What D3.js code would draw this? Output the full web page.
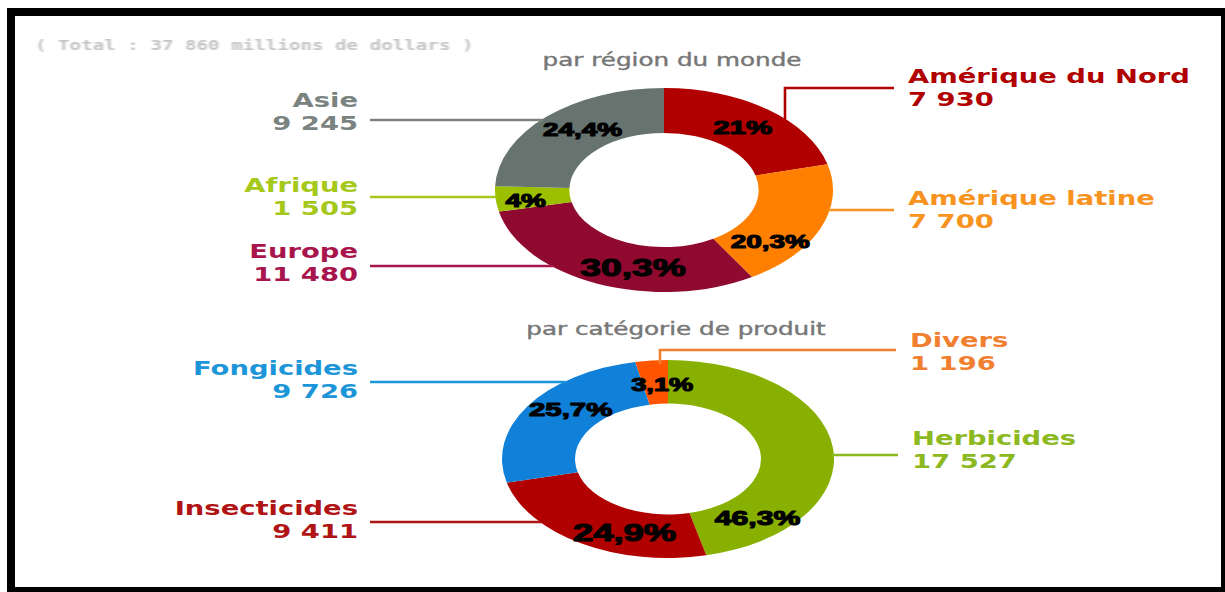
<!DOCTYPE html>
<html>
<head>
<meta charset="utf-8">
<script src="https://cdn.jsdelivr.net/npm/d3@7"></script>
<style>
  html, body { margin: 0; padding: 0; background: #fff; }
  svg { display: block; }
</style>
</head>
<body>
<svg id="chart" width="1225" height="592"></svg>
<script>
// ---- Data: pesticide sales, millions of dollars ----
const regionNames  = ["Amérique du Nord", "Amérique latine", "Europe", "Afrique", "Asie"];
const regionValues = [7930, 7700, 11480, 1505, 9245];
const regionShares = ["21%", "20,3%", "30,3%", "4%", "24,4%"];

const productNames  = ["Herbicides", "Insecticides", "Fongicides", "Divers"];
const productValues = [17527, 9411, 9726, 1196];
const productShares = ["46,3%", "24,9%", "25,7%", "3,1%"];

const subtitles = ["par région du monde", "par catégorie de produit"];

// ---- Styling ----
const regionFill  = ["#b00000", "#ff8000", "#900a30", "#9cc000", "#66736f"];
const regionInk   = ["#b00000", "#f7931e", "#a8154c", "#a6c81a", "#7b8381"];
const productFill = ["#88b000", "#b00000", "#1080d8", "#ff5500"];
const productInk  = ["#8cb820", "#b01414", "#1c96d8", "#f08030"];

const SX = 1.37;            // horizontal stretch applied to the callout texts
const fr = d3.formatLocale({ decimal: ",", thousands: "\u00a0", grouping: [3], currency: ["", ""] });
const fmt = fr.format(",d");

const svg = d3.select("#chart");

// frame
svg.append("rect").attr("x", 0).attr("y", 0).attr("width", 1225).attr("height", 592).attr("fill", "#fff");
svg.append("path")
  .attr("fill", "#000")
  .attr("fill-rule", "evenodd")
  .attr("d", "M7,8 H1225 V592 H7 Z M15,16 V587 H1221 V16 Z");

// total line
const total = d3.sum(regionValues);
svg.append("defs").append("filter").attr("id", "soft")
  .append("feGaussianBlur").attr("stdDeviation", 0.6);
svg.append("text")
  .attr("transform", `translate(35,50) scale(${SX},1)`)
  .attr("font-family", "DejaVu Sans Mono")
  .attr("font-weight", "bold")
  .attr("font-size", 14)
  .attr("fill", "#c4c4c4")
  .attr("filter", "url(#soft)")
  .text(`( Total : ${fmt(total)} millions de dollars )`);

// layout of each ring and its callouts
const charts = [
  {
    names: regionNames, values: regionValues, shares: regionShares,
    fill: regionFill, ink: regionInk, title: subtitles[0],
    cx: 664, cy: 190, rx: 169, ry: 102, titleX: 672, titleY: 66,
    shareSize: [19, 18, 24, 18, 18],
    shareNudge: [[-2, 0], [-16, 22], [21, 4], [-7, 3], [10, -3]],
    callouts: [
      { side: "right", x: 908, y: 83, elbowX: 785, lineY: 88 },
      { side: "right", x: 908, y: 205, lineY: 210 },
      { side: "left",  x: 358, y: 258, lineY: 266 },
      { side: "left",  x: 358, y: 192, lineY: 197 },
      { side: "left",  x: 358, y: 107, lineY: 120 }
    ]
  },
  {
    names: productNames, values: productValues, shares: productShares,
    fill: productFill, ink: productInk, title: subtitles[1],
    cx: 668, cy: 459, rx: 166, ry: 99, titleX: 676, titleY: 335,
    shareSize: [19.5, 23.5, 19, 17.5],
    shareNudge: [[-39, 68], [24, 8], [12, -8], [7, 3]],
    callouts: [
      { side: "right", x: 912, y: 445, lineY: 455 },
      { side: "left",  x: 358, y: 515, lineY: 522 },
      { side: "left",  x: 358, y: 375, lineY: 382 },
      { side: "right", x: 910, y: 347, elbowX: 660, lineY: 350 }
    ]
  }
];

const R = 100, INNER = 0.56;
const pie = d3.pie().sort(null).value(d => d).startAngle(0).endAngle(2 * Math.PI);
const arc = d3.arc().outerRadius(R).innerRadius(R * INNER);
const midArc = d3.arc().outerRadius(R * (1 + INNER) / 2).innerRadius(R * (1 + INNER) / 2);

charts.forEach(c => {
  const sx = c.rx / R, sy = c.ry / R;
  const arcs = pie(c.values);

  // subtitle
  svg.append("text")
    .attr("transform", `translate(${c.titleX},${c.titleY}) scale(1.45,1)`)
    .attr("text-anchor", "middle")
    .attr("font-family", "DejaVu Sans")
    .attr("font-size", 17)
    .attr("fill", "#777")
    .attr("stroke", "#777").attr("stroke-width", 0.4)
    .text(c.title);

  // ring
  svg.append("g")
    .attr("transform", `translate(${c.cx},${c.cy}) scale(${sx},${sy})`)
    .selectAll("path")
    .data(arcs)
    .join("path")
    .attr("d", arc)
    .attr("fill", (d, i) => c.fill[i]);

  // outer edge of the ring for a given y (or x)
  const edgeX = (y, dir) => c.cx + dir * c.rx * Math.sqrt(Math.max(0, 1 - ((y - c.cy) / c.ry) ** 2));
  const edgeY = x => c.cy - c.ry * Math.sqrt(Math.max(0, 1 - ((x - c.cx) / c.rx) ** 2));

  // leader lines
  c.callouts.forEach((o, i) => {
    let pts;
    if (o.elbowX !== undefined) {
      pts = [[o.elbowX, edgeY(o.elbowX) + 4], [o.elbowX, o.lineY], [o.x - 14, o.lineY]];
    } else if (o.side === "right") {
      pts = [[edgeX(o.lineY, 1) - 2, o.lineY], [o.x - 14, o.lineY]];
    } else {
      pts = [[o.x + 12, o.lineY], [edgeX(o.lineY, -1) + 2, o.lineY]];
    }
    svg.append("path")
      .attr("d", d3.line()(pts))
      .attr("fill", "none")
      .attr("stroke", c.ink[i])
      .attr("stroke-width", 2.6);
  });

  // callout labels: name and value
  c.callouts.forEach((o, i) => {
    const anchor = o.side === "left" ? "end" : "start";
    [c.names[i], fmt(c.values[i])].forEach((s, k) => {
      svg.append("text")
        .attr("transform", `translate(${o.x},${o.y + k * 23}) scale(${SX},1)`)
        .attr("text-anchor", anchor)
        .attr("font-family", "DejaVu Sans")
        .attr("font-weight", "bold")
        .attr("font-size", 20)
        .attr("fill", c.ink[i])
        .text(s);
    });
  });

  // shares inside the ring
  arcs.forEach((d, i) => {
    const [px, py] = midArc.centroid(d);
    const x = c.cx + px * sx + c.shareNudge[i][0];
    const y = c.cy + py * sy + c.shareNudge[i][1];
    svg.append("text")
      .attr("transform", `translate(${x},${y}) scale(1.55,1)`)
      .attr("text-anchor", "middle")
      .attr("dy", "0.36em")
      .attr("font-family", "Liberation Sans")
      .attr("font-weight", "bold")
      .attr("font-size", c.shareSize[i])
      .attr("fill", "#000")
      .attr("stroke", "#000").attr("stroke-width", 1.1)
      .attr("stroke-linejoin", "round")
      .text(c.shares[i]);
  });
});
</script>
</body>
</html>
